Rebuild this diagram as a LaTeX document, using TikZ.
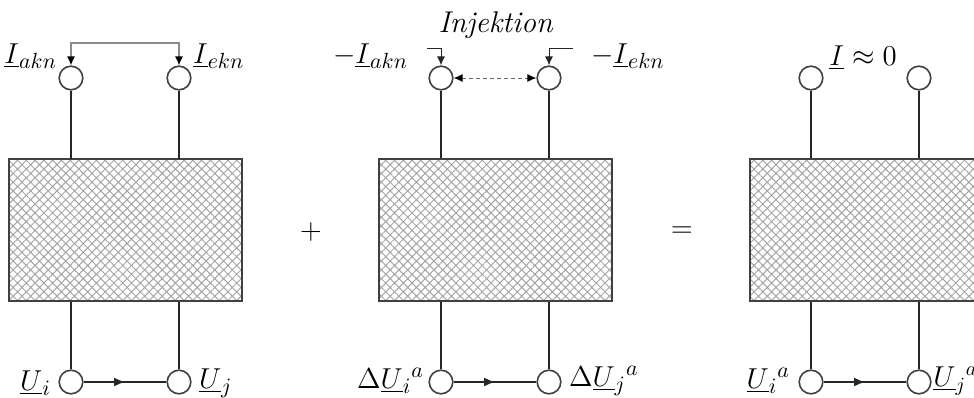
\documentclass[tikz,border=0pt]{standalone}
\usetikzlibrary{arrows.meta,patterns.meta,decorations.markings}

\tikzset{
  klemme/.style={circle, draw=black!75, line width=0.8pt, fill=white, minimum size=11.8pt, inner sep=0pt},
  netz/.style={draw=black!75, line width=0.8pt, pattern={Hatch[angle=45,distance=3.1pt,line width=0.5pt]}, pattern color=black!35, minimum width=116.5pt, minimum height=71pt, inner sep=0pt},
  leitung/.style={black!85, line width=0.8pt},
  mitte/.style={postaction={decorate}, decoration={markings, mark=at position 0.5 with {\arrow{Latex[length=5.5pt,width=4.5pt]}}}},
  spitzen/.style={{Latex[black,length=4.5pt,width=4pt]}-{Latex[black,length=4.5pt,width=4pt]}},
}

\begin{document}
\begin{tikzpicture}[x=0.5pt, y=-0.5pt, >={Latex[length=4.5pt,width=4pt]}, font=\fontsize{15}{18}\selectfont]
  \clip (0,0) rectangle (974,397);
  \def\yo{78}
  \def\yu{382}
  \def\yn{230}

  % Teil 1: Ausgangszustand
  \node[netz] (N1) at (125.5,\yn) {};
  \node[klemme] (A1) at (71,\yo) {};
  \node[klemme] (E1) at (179,\yo) {};
  \node[klemme] (I1) at (71,\yu) {};
  \node[klemme] (J1) at (179,\yu) {};
  \draw[leitung] (A1) -- (A1 |- N1.north);
  \draw[leitung] (E1) -- (E1 |- N1.north);
  \draw[leitung] (I1) -- (I1 |- N1.south);
  \draw[leitung] (J1) -- (J1 |- N1.south);
  \draw[leitung, mitte] (I1) -- (J1);
  \coordinate (K1) at (0,43);
  \draw[black!45, line width=0.6pt, spitzen] (A1.north) -- (A1 |- K1) -- (E1 |- K1) -- (E1.north);
  \node[anchor=east] (la1) at (64,56) {$\underline{I}_{akn}$};
  \node[anchor=west] (le1) at (186,56) {$\underline{I}_{ekn}$};
  \node[anchor=east] (ui1) at (58,383) {$\underline{U}_i$};
  \node[anchor=west] (uj1) at (192,383) {$\underline{U}_j$};

  \node (plus) at (311,232) {+};

  % Teil 2: Injektion
  \node[netz] (N2) at (495.5,\yn) {};
  \node[klemme] (A2) at (441,\yo) {};
  \node[klemme] (E2) at (549,\yo) {};
  \node[klemme] (I2) at (441,\yu) {};
  \node[klemme] (J2) at (549,\yu) {};
  \draw[leitung] (A2) -- (A2 |- N2.north);
  \draw[leitung] (E2) -- (E2 |- N2.north);
  \draw[leitung] (I2) -- (I2 |- N2.south);
  \draw[leitung] (J2) -- (J2 |- N2.south);
  \draw[leitung, mitte] (I2) -- (J2);
  \coordinate (K2) at (427,48);
  \coordinate (K3) at (573,48);
  \draw[leitung, line width=0.5pt, ->] (K2) -- (A2 |- K2) -- (A2.north);
  \draw[leitung, line width=0.5pt, ->] (K3) -- (E2 |- K3) -- (E2.north);
  \draw[black!60, line width=0.5pt, dash pattern=on 2pt off 1.5pt, spitzen] (A2) -- (E2);
  \node (inj) at (496,25) {\textit{Injektion}};
  \node[anchor=east] (la2) at (415,56) {$-\underline{I}_{akn}$};
  \node[anchor=west] (le2) at (584,56) {$-\underline{I}_{ekn}$};
  \node[anchor=east] (ui2) at (431,381) {$\Delta\underline{U}_i{}^{a}$};
  \node[anchor=west] (uj2) at (562,381) {$\Delta\underline{U}_j{}^{a}$};

  \node (gleich) at (682,232) {=};

  % Teil 3: Ergebnis
  \node[netz] (N3) at (866.5,\yn) {};
  \node[klemme] (A3) at (811,\yo) {};
  \node[klemme] (E3) at (919,\yo) {};
  \node[klemme] (I3) at (811,\yu) {};
  \node[klemme] (J3) at (919,\yu) {};
  \draw[leitung] (A3) -- (A3 |- N3.north);
  \draw[leitung] (E3) -- (E3 |- N3.north);
  \draw[leitung] (I3) -- (I3 |- N3.south);
  \draw[leitung] (J3) -- (J3 |- N3.south);
  \draw[leitung, mitte] (I3) -- (J3);
  \node (null) at (863,58) {$\underline{I}\approx 0$};
  \node[anchor=east] (ui3) at (797,381) {$\underline{U}_i{}^{a}$};
  \node[anchor=west, inner sep=0pt, font=\fontsize{14}{16}\selectfont] (uj3) at (933,381) {$\underline{U}_j{}^{a}$};
\end{tikzpicture}
\end{document}
